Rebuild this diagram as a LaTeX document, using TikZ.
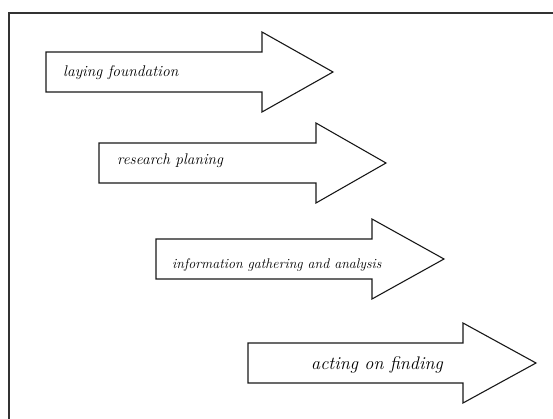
\documentclass[tikz,border=0pt]{standalone}
\usepackage{fontspec}
\tikzset{
  frameline/.style={draw=black!80, line width=1.3pt},
  stagearrow/.style={draw=black!90, line width=1.1pt, fill=white, line join=miter},
  stagelabel/.style={anchor=base west, inner sep=0pt, text=black}
}
\begin{document}
\begin{tikzpicture}[x=1pt, y=-1pt]
  \useasboundingbox (0,0) rectangle (553,419);
  % frame (only top and left edges are inside the page)
  \draw[frameline] (9,425) -- (9,13) -- (560,13);

  % block arrows
  \draw[stagearrow] (46,52) -- ++(216,0) -- ++(0,-20) -- ++(71,40) -- ++(-71,40)
    -- ++(0,-20) -- ++(-216,0) -- cycle;
  \draw[stagearrow] (99,143) -- ++(217,0) -- ++(0,-20) -- ++(70,40) -- ++(-70,40)
    -- ++(0,-20) -- ++(-217,0) -- cycle;
  \draw[stagearrow] (156,239) -- ++(216,0) -- ++(0,-20) -- ++(72,40) -- ++(-72,40)
    -- ++(0,-20) -- ++(-216,0) -- cycle;
  \draw[stagearrow] (248,343) -- ++(215,0) -- ++(0,-20) -- ++(73,40) -- ++(-73,40)
    -- ++(0,-20) -- ++(-215,0) -- cycle;

  % labels
  \node[stagelabel, font=\itshape\fontsize{15.5}{18}\selectfont] (laying) at (63,77) {laying foundation};
  \node[stagelabel, font=\itshape\fontsize{15.4}{18}\selectfont] (planing) at (117,165) {research planing};
  \node[stagelabel, font=\itshape\fontsize{14}{17}\selectfont] (gathering) at (172,268) {information gathering and analysis};
  \node[stagelabel, font=\itshape\fontsize{18.2}{21}\selectfont] (acting) at (311,369) {acting on finding};
\end{tikzpicture}
\end{document}
